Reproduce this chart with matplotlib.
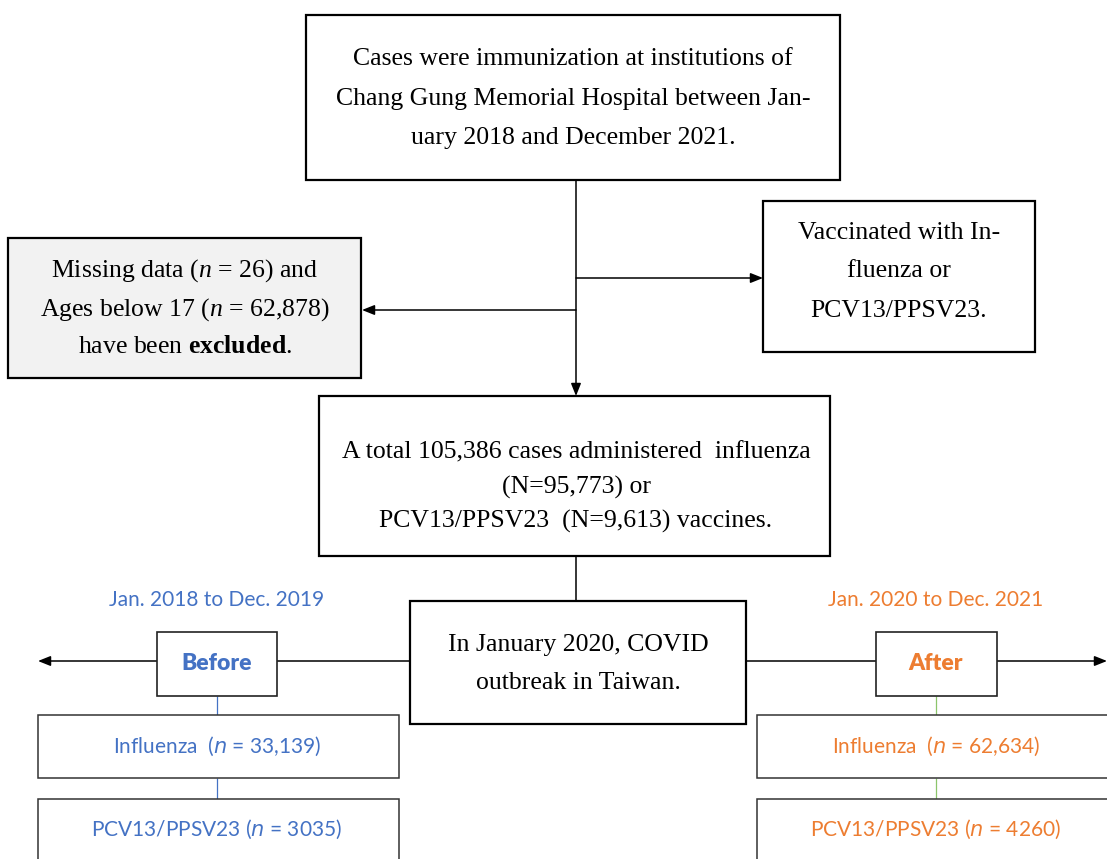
import matplotlib
matplotlib.use("Agg")
import matplotlib.pyplot as plt
from matplotlib.patches import Rectangle

plt.rcParams['mathtext.fontset'] = 'custom'
plt.rcParams['mathtext.rm'] = 'Liberation Serif'
plt.rcParams['mathtext.it'] = 'Liberation Serif:italic'
plt.rcParams['mathtext.bf'] = 'Liberation Serif:bold'

# study numbers
n_missing = 26
n_under17 = "62,878"
n_total = "105,386"
n_flu_total = "95,773"
n_pcv_total = "9,613"
n_flu_before = "33,139"
n_pcv_before = 3035
n_flu_after = "62,634"
n_pcv_after = 4260

top_lines = ["Cases were immunization at institutions of",
             "Chang Gung Memorial Hospital between Jan-",
             "uary 2018 and December 2021."]
right_lines = ["Vaccinated with In-", "fluenza or", "PCV13/PPSV23."]
left_lines = [f"Missing data ($n$ = {n_missing}) and",
              f"Ages below 17 ($n$ = {n_under17})",
              r"have been $\mathbf{excluded}$."]
mid_lines = [f"A total {n_total} cases administered  influenza",
             f"(N={n_flu_total}) or",
             f"PCV13/PPSV23  (N={n_pcv_total}) vaccines."]
covid_lines = ["In January 2020, COVID", "outbreak in Taiwan."]

period_labels = ["Jan. 2018 to Dec. 2019", "Jan. 2020 to Dec. 2021"]
group_labels = ["Before", "After"]
flu_labels = [f"Influenza  ($n$ = {n_flu_before})", f"Influenza  ($n$ = {n_flu_after})"]
pcv_labels = [f"PCV13/PPSV23 ($n$ = {n_pcv_before})", f"PCV13/PPSV23 ($n$ = {n_pcv_after})"]

BLUE = "#4472C4"
ORANGE = "#ED7D31"
GREEN = "#8CC56B"
SERIF = "Liberation Serif"
SANS = "Lato"
SERIF_SIZE = 18.5
SANS_SIZE = 15

fig = plt.figure(figsize=(11.07, 8.59), dpi=100)
ax = fig.add_axes([0, 0, 1, 1])
ax.set_xlim(0, 1107)
ax.set_ylim(859, 0)
ax.axis('off')


def box(x0, y0, x1, y1, lw=1.6, fc='white', ec='black'):
    ax.add_patch(Rectangle((x0, y0), x1 - x0, y1 - y0, fc=fc, ec=ec, lw=lw, zorder=3))


def lines_text(xc, ys, lines, size=SERIF_SIZE, family=SERIF, color='black', **kw):
    for y, s in zip(ys, lines):
        ax.text(xc, y, s, ha='center', va='center', fontsize=size, family=family,
                color=color, zorder=4, **kw)


def arrow(x0, y0, x1, y1):
    ax.annotate("", xy=(x1, y1), xytext=(x0, y0),
                arrowprops=dict(arrowstyle='-|>,head_length=0.75,head_width=0.3',
                                color='black', lw=1.1, shrinkA=0, shrinkB=0), zorder=2)


def seg(x0, y0, x1, y1, color='black', lw=1.1):
    ax.plot([x0, x1], [y0, y1], color=color, lw=lw, zorder=2, solid_capstyle='butt')


# top box
box(306, 15, 840, 180)
lines_text(573, [59, 99, 138], top_lines)

# connectors from top
arrow(576, 180, 576, 396)
arrow(576, 278, 763, 278)
arrow(576, 310, 362, 310)

box(763, 201, 1035, 352)
lines_text(899, [233, 271, 311], right_lines)

box(8, 238, 361, 378, fc='#F2F2F2')
lines_text(185, [271, 310, 347], left_lines)

# middle box
box(319, 396, 830, 556)
lines_text(576, [452, 487, 521], mid_lines)

seg(576, 556, 576, 601)

# covid box and side arrows
box(410, 601, 746, 724)
lines_text(578, [645, 683], covid_lines)
arrow(410, 661, 38, 661)
arrow(746, 661, 1107, 661)

# groups
centers = [217, 936]
colors = [BLUE, ORANGE]
link_colors = [BLUE, GREEN]
gbox = [(157, 277), (876, 997)]
sbox = [(38, 399), (757, 1120)]
for i in range(2):
    xc = centers[i]
    ax.text(xc, 600, period_labels[i], ha='center', va='center', fontsize=SANS_SIZE,
            family=SANS, color=colors[i], zorder=4)
    box(gbox[i][0], 632, gbox[i][1], 696, lw=1.2, ec='#222222')
    ax.text(xc, 663, group_labels[i], ha='center', va='center', fontsize=SANS_SIZE + 1.5,
            family=SANS, weight='heavy', color=colors[i], zorder=4)
    seg(xc, 696, xc, 715, color=link_colors[i], lw=0.9)
    seg(xc, 778, xc, 799, color=link_colors[i], lw=0.9)
    box(sbox[i][0], 715, sbox[i][1], 778, lw=1.1, ec='#333333')
    box(sbox[i][0], 799, sbox[i][1], 880, lw=1.1, ec='#333333')
    ax.text(xc, 746, flu_labels[i], ha='center', va='center', fontsize=SANS_SIZE,
            family=SANS, color=colors[i], zorder=4, math_fontfamily='dejavusans')
    ax.text(xc, 829, pcv_labels[i], ha='center', va='center', fontsize=SANS_SIZE,
            family=SANS, color=colors[i], zorder=4, math_fontfamily='dejavusans')

fig.savefig("out.png", dpi=100)
